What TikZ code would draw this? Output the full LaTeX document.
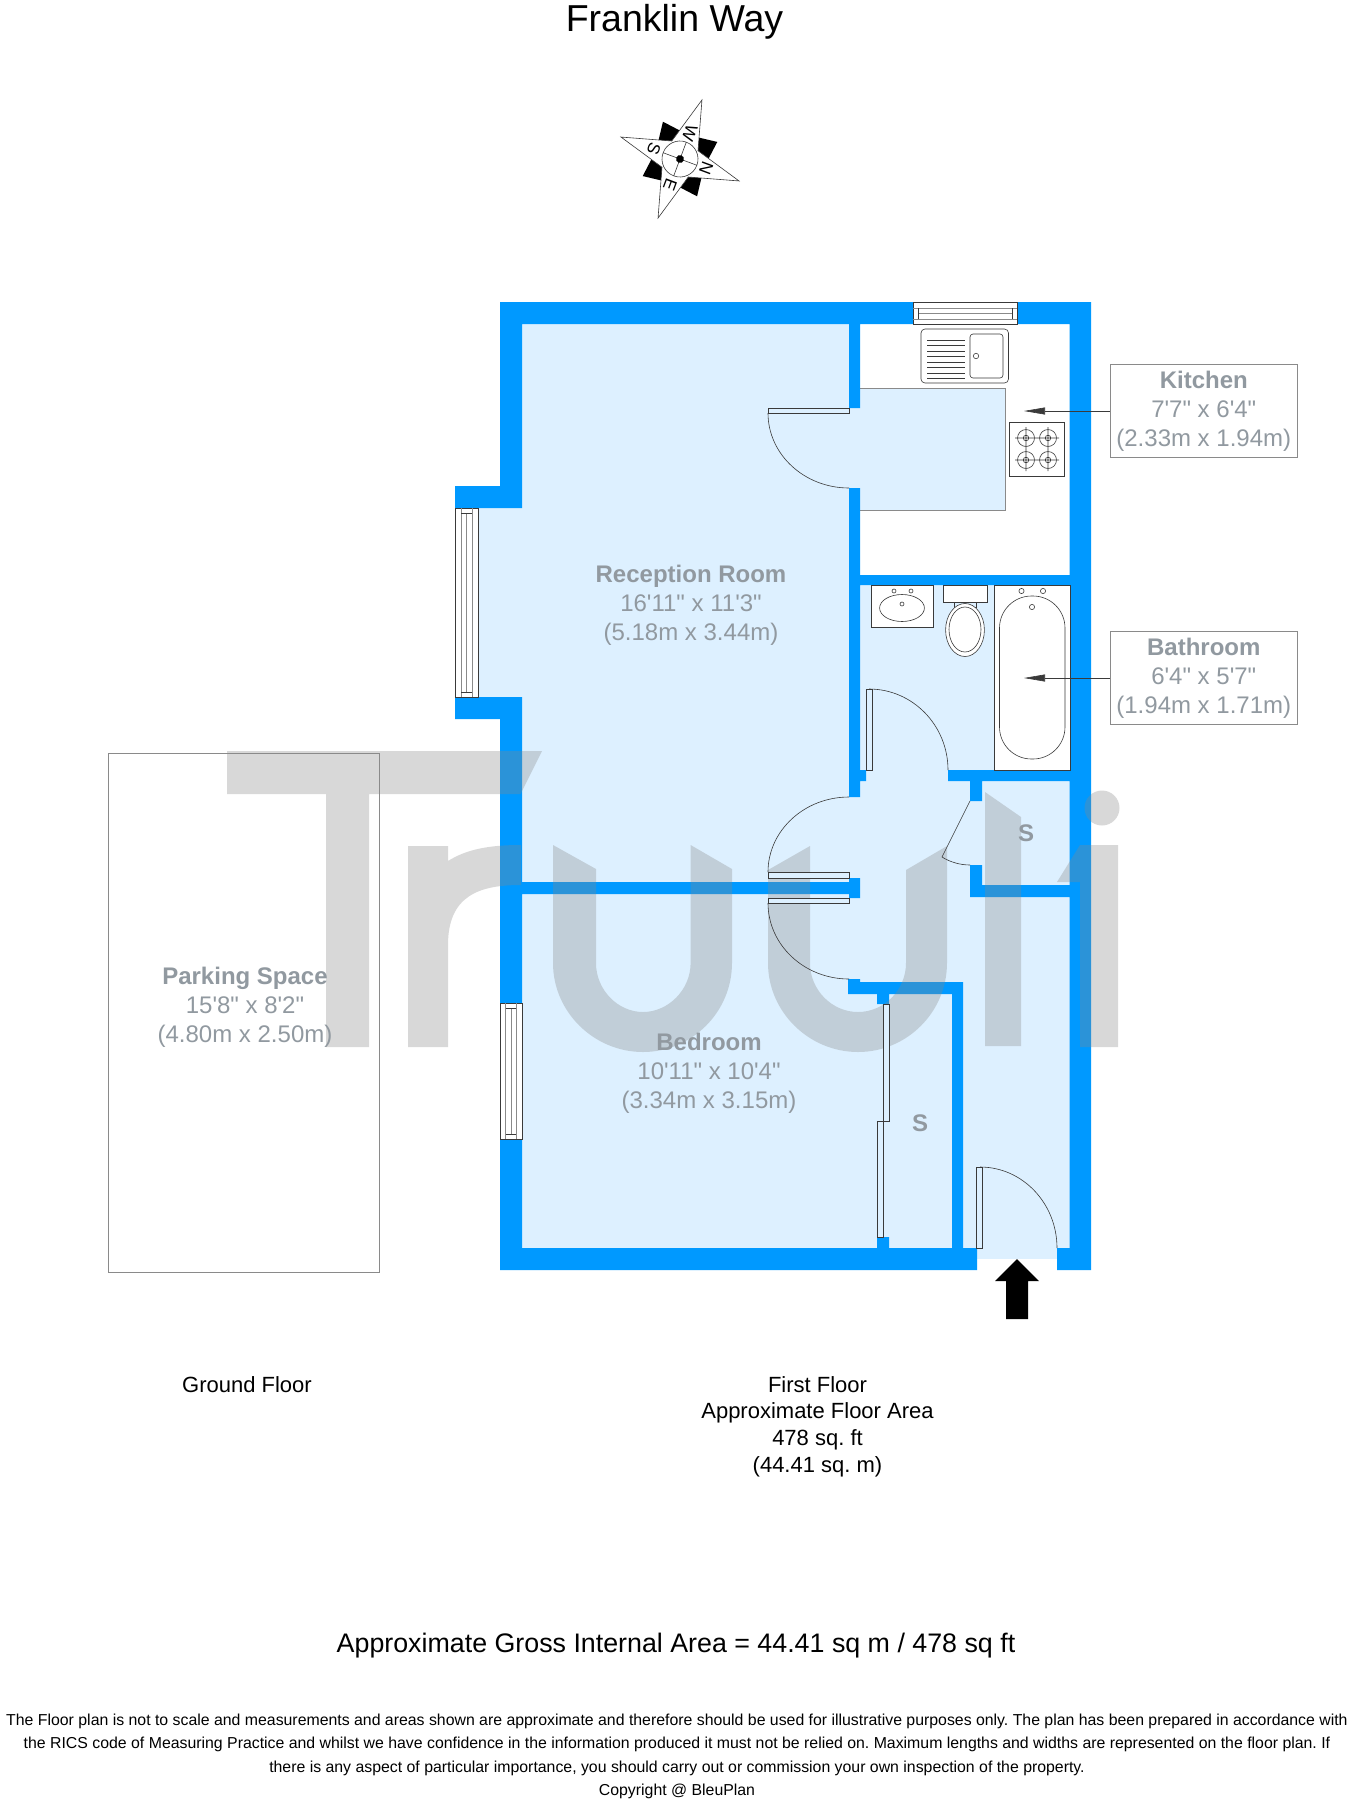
\documentclass[tikz,border=0pt]{standalone}
\usepackage{fontspec}
\usetikzlibrary{arrows.meta}
\newfontfamily\lib{Liberation Sans}
\frenchspacing
\definecolor{wallc}{HTML}{0099FF}
\definecolor{floorc}{HTML}{DDF0FF}
\definecolor{wmc}{HTML}{878787}
\definecolor{lblc}{HTML}{9199A0}
\definecolor{linec}{HTML}{3A3A3A}
\definecolor{boxc}{HTML}{8A8A8A}
\tikzset{
  wall/.style={fill=wallc},
  floorfill/.style={fill=floorc},
  thin line/.style={draw=linec,line width=0.6pt},
  fixture/.style={draw=linec,line width=0.6pt,fill=white},
  leaf/.style={draw=linec,line width=0.6pt,fill=floorc},
  panelgrey/.style={draw=boxc,line width=1pt},
  txt/.style={anchor=base,inner sep=0pt,font=\lib\fontsize{22}{26}\selectfont,text=black},
  lbl/.style={anchor=base,inner sep=0pt,font=\lib\fontsize{24}{28}\selectfont,text=lblc},
  lblb/.style={anchor=base,inner sep=0pt,font=\lib\bfseries\fontsize{24}{28}\selectfont,text=lblc},
  small/.style={anchor=base,inner sep=0pt,font=\lib\fontsize{15.85}{20}\selectfont},
  compassletter/.style={inner sep=0pt,transform shape,font=\lib\fontsize{17}{19}\selectfont},
  labelbox/.style={draw=boxc,line width=1pt,minimum width=187pt,minimum height=93pt,inner sep=0pt,fill=white},
  pointer/.style={draw=linec,line width=0.6pt,-{Triangle[length=21pt,width=7pt]}},
}
\begin{document}
\begin{tikzpicture}[x=1pt,y=-1pt]
\useasboundingbox (0,0) rectangle (1350,1805);
\fill[white] (0,0) rectangle (1350,1805);

% floors
\fill[floorfill] (478,508) rectangle (522,697);
\fill[floorfill] (522,324) rectangle (1070,1259);
\fill[white] (860,324) rectangle (1070,575);
\fill[floorc] (860,388) rectangle (1005,510);
\draw[draw=boxc,line width=0.8pt] (860,388) -- (1005,388) -- (1005,510) -- (860,510);

% walls
\fill[wall]
 (500,302) rectangle (913,324)
 (1017,302) rectangle (1091,324)
 (1069.5,302) rectangle (1091,1270)
 (500,302) rectangle (522,508)
 (455,486) rectangle (522,508)
 (455,697) rectangle (522,719)
 (500,697) rectangle (522,1003)
 (500,1139) rectangle (522,1270)
 (500,1248) rectangle (977,1270)
 (1057,1248) rectangle (1091,1270)
 (522,882) rectangle (849,894)
 (849,878) rectangle (860,898)
 (849,324) rectangle (860,408)
 (849,488) rectangle (860,797)
 (860,770) rectangle (866,781)
 (860,575) rectangle (1070,585)
 (948,770) rectangle (1070,781)
 (970,781) rectangle (982,801)
 (970,865) rectangle (982,897)
 (970,885) rectangle (1070,897)
 (848,979) rectangle (860,994)
 (848,982) rectangle (963,994)
 (952,982) rectangle (963,1248)
 (877,994) rectangle (889,1004)
 (877,1237) rectangle (889,1248);

% bath, drawn white under the watermark level
\draw[fixture] (994,585) rectangle (1070,770);

% watermark
\fill[wmc,fill opacity=0.32]
 (227,751) -- (542,751) -- (520.5,794) -- (369,794) -- (369,1047) -- (326,1047) -- (326,794) -- (227,794) -- cycle
 (408,846) -- (448,846) -- (448,861) .. controls (467,849) and (490,845) .. (521,845) -- (521,885) .. controls (480,885) and (448,895) .. (448,945) -- (448,1047) -- (408,1047) -- cycle
 (553,845) -- (596,869) -- (596,963) .. controls (596,990) and (618,1012) .. (643,1012) .. controls (668,1012) and (690.6,990) .. (690.6,963) -- (690.6,845) -- (732,869) -- (732,963) .. controls (732,1012) and (692,1052) .. (643,1052) .. controls (594,1052) and (553,1012) .. (553,963) -- cycle
 (768,870) -- (810,846) -- (810,963) .. controls (810,990) and (832,1012) .. (858,1012) .. controls (884,1012) and (906,990) .. (906,963) -- (906,870) -- (947,846) -- (947,963) .. controls (947,1012) and (907,1052) .. (858,1052) .. controls (809,1052) and (768,1012) .. (768,963) -- cycle
 (985,792) -- (1021,817) -- (1021,1046) -- (985,1046) -- cycle
 (1057,882) -- (1080,845) -- (1118,845) -- (1118,1047) -- (1080,1047) -- (1080,882) -- cycle
 (1102,808) circle (17.5pt);

% top window
\draw[fixture] (913,302) rectangle (1017,324);
\draw[panelgrey] (913,308) -- (1017,308) (918,313) -- (1012,313) (913,319) -- (1017,319);
\draw[thin line] (918,308) -- (918,319) (1012,308) -- (1012,319);
% bay window
\draw[fixture] (455,508) rectangle (478,697);
\draw[panelgrey] (461,508) -- (461,697) (466,513) -- (466,692) (472,508) -- (472,697);
\draw[thin line] (461,513) -- (472,513) (461,692) -- (472,692);
% bedroom window
\draw[fixture] (500,1003) rectangle (522,1139);
\draw[panelgrey] (505.5,1003) -- (505.5,1139) (511,1008) -- (511,1134) (516,1003) -- (516,1139);
\draw[thin line] (505.5,1008) -- (516,1008) (505.5,1134) -- (516,1134);

% kitchen fittings
\draw[fixture,rounded corners=4pt] (921,329) rectangle (1008.5,383);
\draw[fixture,rounded corners=3pt] (970,334) rectangle (1003,378);
\draw[thin line] (976,356) circle (2.7pt);
\draw[thin line] (927,340) -- (965,340) (927,345.5) -- (965,345.5) (927,351) -- (965,351) (927,356.5) -- (965,356.5) (927,362) -- (965,362) (927,367.5) -- (965,367.5) (927,373) -- (965,373) (927,378) -- (965,378);
\draw[fixture] (1009.6,422) rectangle (1064,476);
\foreach \hx/\hy in {1026/438,1048/438,1026/460,1048/460}{
  \draw[thin line] (\hx,\hy) circle (8.5pt) (\hx,\hy) circle (2.8pt)
    (\hx-11,\hy) -- (\hx+11,\hy) (\hx,\hy-11) -- (\hx,\hy+11);
}

% bathroom fittings
\draw[fixture] (871,585) rectangle (933,627);
\draw[thin line] (902,608) ellipse (22.4pt and 13.5pt);
\draw[thin line] (894,591) circle (2pt) (911,591) circle (2pt) (902,604) circle (2pt);
\draw[fixture] (943,585) rectangle (987,602);
\draw[thin line] (954,602) -- (954,608) (976,602) -- (976,608) (954,607) -- (976,607);
\draw[fixture] (965,630) ellipse (19.4pt and 26.5pt);
\draw[thin line] (965,629.5) ellipse (16pt and 22.5pt);
\draw[thin line] (999.5,596) [rounded corners=32pt] rectangle (1065,759);
\draw[thin line] (1021.5,591) circle (2.6pt) (1043,591) circle (2.6pt) (1032,607) circle (2.6pt);

% doors
\draw[leaf] (768,408) rectangle (849,413);
\draw[thin line] (768,413) .. controls (768,454.4) and (804.3,488) .. (849,488);
\draw[leaf] (866,689) rectangle (872,770);
\draw[thin line] (869,689) .. controls (912.6,689) and (948,725.3) .. (948,770);
\draw[leaf] (768,872) rectangle (849,878);
\draw[leaf] (768,898) rectangle (849,903);
\draw[thin line] (849,797) .. controls (804.3,797) and (768,830.6) .. (768,872);
\draw[thin line] (768,903) .. controls (768,945) and (804.3,979) .. (849,979);
\draw[thin line] (970,801) -- (942,857) .. controls (950,862) and (960,865) .. (970,865);
\draw[leaf] (883,1004) rectangle (889,1121);
\draw[leaf] (877,1121) rectangle (883,1237);
\draw[leaf] (976,1167) rectangle (982,1248);
\draw[thin line] (980,1167) .. controls (1022.5,1167) and (1057,1203.3) .. (1057,1248);

% entrance arrow
\fill[black] (1017,1259) -- (1039,1281) -- (1028,1281) -- (1028,1319) -- (1006,1319) -- (1006,1281) -- (995,1281) -- cycle;

% parking
\draw[draw=boxc,line width=1pt] (108,753) rectangle (379,1272);

% compass
\begin{scope}[shift={(680,159)},rotate=-20.4]
  \fill[black]
    (29,-29) -- (26,-5) -- (0,0) -- (5,-26) -- cycle
    (29,29) -- (5,26) -- (0,0) -- (26,5) -- cycle
    (-29,29) -- (-26,5) -- (0,0) -- (-5,26) -- cycle
    (-29,-29) -- (-5,-26) -- (0,0) -- (-26,-5) -- cycle;
  \draw[fill=white,draw=linec,line width=0.6pt]
    (0,-63) -- (14,-14) -- (63,0) -- (14,14) -- (0,63) -- (-14,14) -- (-63,0) -- (-14,-14) -- cycle;
  \draw[draw=linec,line width=0.6pt] (0,0) circle (18pt) (-18,0) -- (18,0) (0,-18) -- (0,18);
  \fill[black] (0,0) circle (4pt);
\end{scope}
\begin{scope}[shift={(680,159)},rotate=-110.4]
  \node[compassletter] (cn) at (0,-28) {N};
  \node[compassletter] (ce) at (28,0) {E};
  \node[compassletter] (cs) at (0,28) {S};
  \node[compassletter] (cw) at (-28,0) {W};
\end{scope}

% label boxes and pointers
\node[labelbox] (kbox) at (1203.75,410.5) {};
\node[labelbox] (bbox) at (1203.75,677.5) {};
\coordinate (ktip) at (1024,411);
\coordinate (btip) at (1024,678);
\draw[pointer] (kbox.west |- ktip) -- (ktip);
\draw[pointer] (bbox.west |- btip) -- (btip);

% texts
\node[anchor=base,inner sep=0pt,font=\lib\fontsize{37.5}{40}\selectfont] (title) at (674.5,31) {Franklin Way};

\node[lblb] (k1) at (1203.75,388) {Kitchen};
\node[lbl] (k2) at (1203.75,417) {7'7" x 6'4"};
\node[lbl] (k3) at (1203.75,446) {(2.33m x 1.94m)};
\node[lblb] (b1) at (1203.75,655) {Bathroom};
\node[lbl] (b2) at (1203.75,684) {6'4" x 5'7"};
\node[lbl] (b3) at (1203.75,713) {(1.94m x 1.71m)};
\node[lblb] (r1) at (691,582) {Reception Room};
\node[lbl] (r2) at (691,611) {16'11" x 11'3"};
\node[lbl] (r3) at (691,640) {(5.18m x 3.44m)};
\node[lblb] (d1) at (709,1050) {Bedroom};
\node[lbl] (d2) at (709,1079) {10'11" x 10'4"};
\node[lbl] (d3) at (709,1108) {(3.34m x 3.15m)};
\node[lblb] (p1) at (245,984) {Parking Space};
\node[lbl] (p2) at (245,1013) {15'8" x 8'2"};
\node[lbl] (p3) at (245,1042) {(4.80m x 2.50m)};
\node[lblb] (s1) at (1026,841) {S};
\node[lblb] (s2) at (920,1131) {S};

\node[txt] (gf) at (247,1392) {Ground Floor};
\node[txt] (ff1) at (817.5,1392) {First Floor};
\node[txt] (ff2) at (817.5,1418.5) {Approximate Floor Area};
\node[txt] (ff3) at (817.5,1445) {478 sq. ft};
\node[txt] (ff4) at (817.5,1472) {(44.41 sq. m)};

\node[anchor=base,inner sep=0pt,font=\lib\fontsize{26.8}{30}\selectfont] (gross) at (676,1652) {Approximate Gross Internal Area = 44.41 sq m / 478 sq ft};

\node[small] (dis1) at (677,1725.5) {The Floor plan is not to scale and measurements and areas shown are approximate and therefore should be used for illustrative purposes only. The plan has been prepared in accordance with};
\node[small] (dis2) at (677,1748.5) {the RICS code of Measuring Practice and whilst we have confidence in the information produced it must not be relied on. Maximum lengths and widths are represented on the floor plan. If};
\node[small] (dis3) at (677,1772) {there is any aspect of particular importance, you should carry out or commission your own inspection of the property.};
\node[small] (dis4) at (677,1795) {Copyright @ BleuPlan};
\end{tikzpicture}
\end{document}
